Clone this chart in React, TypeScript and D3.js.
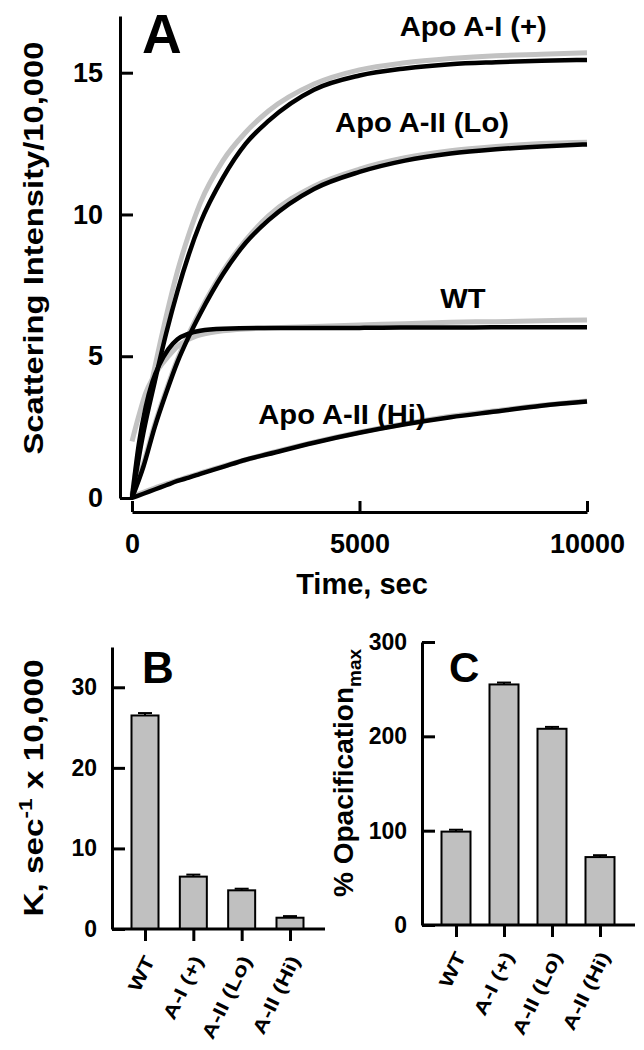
import React, { useEffect, useRef } from 'react';
import * as d3 from 'd3';

const FONT = '"Liberation Sans", Arial, Helvetica, sans-serif';

// panel A: time (sec) and scattering intensity / 10,000
const timeA = [0, 250, 500, 750, 1000, 1250, 1500, 2000, 2500, 3000, 4000, 5000, 6000, 7000, 8000, 9000, 10000];
const timeWT = [0, 150, 300, 450, 600, 800, 1000, 1250, 1500, 2000, 3000, 4000, 5000, 6000, 7000, 8000, 9000, 10000];

const apoAIFit = [0, 2.3, 4.1, 5.8, 7.3, 8.6, 9.7, 11.3, 12.5, 13.3, 14.4, 14.9, 15.15, 15.3, 15.37, 15.42, 15.45];
const apoAIData = [0.1, 2.6, 4.6, 6.4, 8.0, 9.3, 10.4, 11.9, 12.9, 13.65, 14.6, 15.1, 15.35, 15.5, 15.6, 15.65, 15.7];
const apoLoFit = [0, 1.1, 2.5, 3.7, 4.8, 5.7, 6.5, 7.9, 9.0, 9.8, 10.9, 11.5, 11.9, 12.15, 12.3, 12.4, 12.47];
const apoLoData = [0.05, 1.2, 2.6, 3.8, 4.9, 5.8, 6.6, 8.0, 9.1, 9.95, 11.0, 11.6, 12.0, 12.25, 12.4, 12.5, 12.55];
const wtFit = [0, 1.9, 3.2, 4.1, 4.7, 5.25, 5.6, 5.8, 5.9, 5.97, 6.0, 6.0, 6.0, 6.01, 6.01, 6.02, 6.02, 6.02];
const wtData = [2.0, 2.9, 3.7, 4.2, 4.6, 5.0, 5.35, 5.6, 5.75, 5.9, 6.0, 6.05, 6.1, 6.15, 6.2, 6.22, 6.25, 6.28];
const apoHiFit = [0, 0.15, 0.3, 0.45, 0.6, 0.72, 0.85, 1.1, 1.35, 1.55, 1.95, 2.3, 2.6, 2.85, 3.05, 3.25, 3.4];
const apoHiData = [0.05, 0.2, 0.35, 0.5, 0.62, 0.75, 0.88, 1.12, 1.35, 1.57, 1.97, 2.32, 2.62, 2.88, 3.08, 3.27, 3.42];

const yTicksA = [0, 5, 10, 15];
const xTicksA = [0, 5000, 10000];

// panels B and C
const variants = ['WT', 'A-I (+)', 'A-II (Lo)', 'A-II (Hi)'];
const rateK = [26.5, 6.5, 4.8, 1.4];
const rateErr = [0.3, 0.25, 0.2, 0.2];
const opacMax = [99, 255, 208, 72];
const opacErr = [2, 2, 2, 2];
const yTicksB = [0, 10, 20, 30];
const yTicksC = [0, 100, 200, 300];

const styleAxis = (g: any, size: number) => {
    g.attr('font-size', null).attr('font-family', null);
    g.select('.domain').attr('stroke-width', 3).attr('stroke', '#000');
    g.selectAll('.tick line').attr('stroke-width', 3).attr('stroke', '#000');
    g.selectAll('.tick text')
        .attr('font-size', size)
        .attr('font-weight', 'bold')
        .attr('font-family', FONT)
        .attr('fill', '#000');
};

const App: React.FC = () => {
    const ref = useRef<SVGSVGElement | null>(null);

    useEffect(() => {
        const svg = d3.select(ref.current);
        svg.selectAll('*').remove();

        // ---------- panel A
        const xA = d3.scaleLinear().domain([0, 10000]).range([132, 587]);
        const yA = d3.scaleLinear().domain([0, 17]).range([498, 16]);

        const line = d3.line<[number, number]>()
            .x(d => xA(d[0]))
            .y(d => yA(d[1]))
            .curve(d3.curveMonotoneX);

        const series = [
            { t: timeA, fit: apoAIFit, data: apoAIData },
            { t: timeA, fit: apoLoFit, data: apoLoData },
            { t: timeWT, fit: wtFit, data: wtData },
            { t: timeA, fit: apoHiFit, data: apoHiData },
        ];

        series.forEach(s => {
            svg.append('path')
                .datum(s.t.map((t, i) => [t, s.data[i]] as [number, number]))
                .attr('fill', 'none')
                .attr('stroke', '#c2c2c2')
                .attr('stroke-width', 5)
                .attr('d', line);
        });
        series.forEach(s => {
            svg.append('path')
                .datum(s.t.map((t, i) => [t, s.fit[i]] as [number, number]))
                .attr('fill', 'none')
                .attr('stroke', '#000')
                .attr('stroke-width', 4.5)
                .attr('d', line);
        });

        const yAxA = svg.append('g')
            .attr('transform', 'translate(120,0)')
            .call(d3.axisLeft(yA).tickValues(yTicksA).tickSizeInner(-13).tickSizeOuter(0).tickPadding(17));
        styleAxis(yAxA, 27);

        const xAxA = svg.append('g')
            .attr('transform', 'translate(0,512)')
            .call(d3.axisBottom(xA).tickValues(xTicksA).tickSizeInner(-11).tickSizeOuter(0)
                .tickPadding(22).tickFormat(d3.format('d')));
        styleAxis(xAxA, 27);

        // curve labels
        const labelsA: Array<[string, number, number]> = [
            ['Apo A-I (+)', 7500, 16.3],
            ['Apo A-II (Lo)', 6374, 12.92],
            ['WT', 7275, 6.7],
            ['Apo A-II (Hi)', 4615, 2.6],
        ];
        labelsA.forEach(([txt, t, v]) => {
            const el = svg.append('text')
                .attr('x', xA(t))
                .attr('y', yA(v))
                .attr('text-anchor', 'middle')
                .attr('font-family', FONT)
                .attr('font-weight', 'bold')
                .attr('font-size', 27)
                .text(txt);
            const w = (el.node() as SVGTextElement).getComputedTextLength();
            el.attr('textLength', w * 1.08).attr('lengthAdjust', 'spacingAndGlyphs');
        });

        svg.append('text')
            .attr('x', 142).attr('y', 53)
            .attr('font-family', FONT).attr('font-weight', 'bold').attr('font-size', 55)
            .text('A');

        svg.append('text')
            .attr('transform', 'translate(43,248) rotate(-90)')
            .attr('text-anchor', 'middle')
            .attr('font-family', FONT).attr('font-weight', 'bold').attr('font-size', 28)
            .attr('textLength', 413).attr('lengthAdjust', 'spacingAndGlyphs')
            .text('Scattering Intensity/10,000');

        svg.append('text')
            .attr('x', 362).attr('y', 594)
            .attr('text-anchor', 'middle')
            .attr('font-family', FONT).attr('font-weight', 'bold').attr('font-size', 29)
            .text('Time, sec');

        // ---------- bar panels
        const barPanel = (
            values: number[], errs: number[], ticks: number[],
            xr: [number, number], yr: [number, number], ymax: number,
            axisX: number, axisEnd: number, barW: number,
        ) => {
            const x = d3.scalePoint<string>().domain(variants).range(xr);
            const y = d3.scaleLinear().domain([0, ymax]).range(yr);
            const g = svg.append('g');

            g.selectAll('rect.bar')
                .data(values)
                .join('rect')
                .attr('x', (_, i) => (x(variants[i]) as number) - barW / 2)
                .attr('y', d => y(d))
                .attr('width', barW)
                .attr('height', d => yr[0] - y(d))
                .attr('fill', '#c0c0c0')
                .attr('stroke', '#000')
                .attr('stroke-width', 2);

            values.forEach((v, i) => {
                const cx = x(variants[i]) as number;
                g.append('line')
                    .attr('x1', cx).attr('x2', cx)
                    .attr('y1', y(v)).attr('y2', y(v + errs[i]))
                    .attr('stroke', '#000').attr('stroke-width', 2);
                g.append('line')
                    .attr('x1', cx - 7).attr('x2', cx + 7)
                    .attr('y1', y(v + errs[i])).attr('y2', y(v + errs[i]))
                    .attr('stroke', '#000').attr('stroke-width', 2);
            });

            const yAx = g.append('g')
                .attr('transform', `translate(${axisX},0)`)
                .call(d3.axisLeft(y).tickValues(ticks).tickSizeInner(-13).tickSizeOuter(0).tickPadding(15));
            styleAxis(yAx, 23);

            g.append('line')
                .attr('x1', axisX).attr('x2', axisEnd)
                .attr('y1', yr[0]).attr('y2', yr[0])
                .attr('stroke', '#000').attr('stroke-width', 3);

            const xAx = g.append('g')
                .attr('transform', `translate(0,${yr[0]})`)
                .call(d3.axisBottom(x).tickSizeInner(12).tickSizeOuter(0));
            styleAxis(xAx, 19);
            xAx.select('.domain').remove();
            xAx.selectAll('.tick text')
                .attr('x', 0).attr('y', 0).attr('dy', '0.35em')
                .attr('text-anchor', 'end')
                .attr('transform', 'translate(4,28) rotate(-64) scale(1.25,1)');
        };

        barPanel(rateK, rateErr, yTicksB, [145, 290], [929, 647], 35, 112, 325, 27);
        barPanel(opacMax, opacErr, yTicksC, [456, 600], [925, 642], 300, 422, 635, 29);

        svg.append('text')
            .attr('x', 142).attr('y', 683)
            .attr('font-family', FONT).attr('font-weight', 'bold').attr('font-size', 44)
            .text('B');
        svg.append('text')
            .attr('x', 449).attr('y', 682)
            .attr('font-family', FONT).attr('font-weight', 'bold').attr('font-size', 42)
            .text('C');

        const kLabel = svg.append('text')
            .attr('transform', 'translate(43,788) rotate(-90)')
            .attr('text-anchor', 'middle')
            .attr('font-family', FONT).attr('font-weight', 'bold').attr('font-size', 28)
            .attr('textLength', 257).attr('lengthAdjust', 'spacingAndGlyphs');
        kLabel.append('tspan').text('K, sec');
        kLabel.append('tspan').attr('dy', -11).attr('font-size', 19).text('-1');
        kLabel.append('tspan').attr('dy', 11).text(' x 10,000');

        const oLabel = svg.append('text')
            .attr('transform', 'translate(353,897) rotate(-90)')
            .attr('font-family', FONT).attr('font-weight', 'bold').attr('font-size', 28);
        oLabel.append('tspan').text('% Opacification');
        oLabel.append('tspan').attr('dy', 8).attr('font-size', 19).text('max');
    }, []);

    return (
        <svg ref={ref} width={644} height={1050}
            style={{ position: 'absolute', left: 0, top: 0, background: '#fff' }} />
    );
};

export default App;
